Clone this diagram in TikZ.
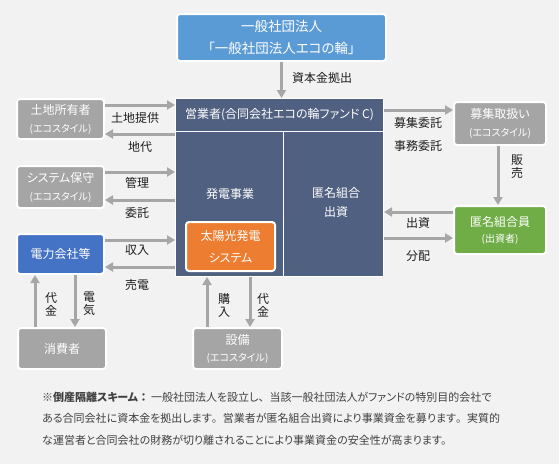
\documentclass[tikz,border=0pt]{standalone}
\usepackage{fontspec}
\setmainfont{Noto Sans CJK JP}[RawFeature={+palt}]
\usetikzlibrary{arrows.meta,calc}
\definecolor{bg}{HTML}{F2F2F2}
\definecolor{boxgray}{HTML}{A5A5A5}
\definecolor{arrgray}{HTML}{A6A6A6}
\definecolor{topblue}{HTML}{5B9BD5}
\definecolor{mainc}{RGB}{80,96,128}
\definecolor{orangec}{HTML}{ED7D31}
\definecolor{powblue}{HTML}{4472C4}
\definecolor{greenc}{HTML}{70AD47}
\definecolor{labc}{HTML}{1E1E1E}
\definecolor{notec}{HTML}{404040}
\newcommand{\fwp}[1]{{\addfontfeatures{RawFeature={-palt}}#1}}
\begin{document}
\begin{tikzpicture}[x=1pt,y=-1pt,
  box/.style={draw=white,line width=2pt,rounded corners=3pt,text=white,align=center,inner sep=0pt,font=\fontsize{12}{18}\selectfont},
  gbox/.style={box,fill=boxgray},
  arr/.style={draw=arrgray,line width=3pt,-{Triangle[length=8pt,width=9pt]}},
  lab/.style={text=labc,inner sep=0pt,align=center,font=\fontsize{12}{13}\selectfont},
  wtxt/.style={text=white,inner sep=0pt,align=center,font=\fontsize{12}{19}\selectfont},
  note/.style={anchor=west,text=notec,inner sep=0pt,font=\fontsize{11}{11}\selectfont}
]
\fill[bg] (0,0) rectangle (559,464);
\useasboundingbox (0,0) rectangle (559,464);
\newcommand{\subt}[1]{{\fontsize{10}{18}\selectfont #1}}

% top
\node[box,fill=topblue,minimum width=209pt,minimum height=47pt,font=\fontsize{13.5}{22}\selectfont] (top) at (281.5,37.5) {一般社団法人\\「一般社団法人エコの輪」};

% main box
\node[draw=white,line width=1pt,fill=mainc,minimum width=208pt,minimum height=178pt,inner sep=0pt] (main) at (279.5,187.5) {};
\draw[white,line width=0.8pt] (main.west |- 0,131) -- (main.east |- 0,131);
\draw[white,line width=0.8pt] (283,131) -- (283,277);
\node[wtxt] (hdr) at (279.5,115) {営業者(合同会社エコの輪ファンド C)};
\node[wtxt] (biz) at (230,194) {発電事業};
\node[wtxt] (tk) at (336,202.5) {匿名組合\\出資};
\node[box,fill=orangec,minimum width=89pt,minimum height=49pt,font=\fontsize{12}{22}\selectfont] (pv) at (230.5,246.5) {太陽光発電\\システム};

% left
\node[gbox,minimum width=87pt,minimum height=40pt] (land) at (60.5,119) {土地所有者\\\subt{(エコスタイル)}};
\node[gbox,minimum width=87pt,minimum height=42pt] (sys) at (60.5,187) {システム保守\\\subt{(エコスタイル)}};
\node[box,fill=powblue,minimum width=87pt,minimum height=40pt] (pow) at (60.5,254) {電力会社等};
\node[gbox,minimum width=88pt,minimum height=41pt] (cons) at (62,348.5) {消費者};
\node[gbox,minimum width=89pt,minimum height=41pt,font=\fontsize{12}{17}\selectfont] (eq) at (237.5,348.5) {設備\\\subt{(エコスタイル)}};

% right
\node[gbox,minimum width=92pt,minimum height=43pt] (rec) at (500,123.5) {募集取扱い\\\subt{(エコスタイル)}};
\node[box,fill=greenc,minimum width=92pt,minimum height=48pt,font=\fontsize{12}{16}\selectfont] (inv) at (500,230) {匿名組合員\\\subt{(出資者)}};

% arrows
\draw[arr] (top.south) -- (top.south |- main.north);
\node[lab,anchor=west] (l0) at (292,78) {資本金拠出};

\draw[arr] ([yshift=14pt]land.east) -- ([yshift=14pt]land.east -| main.west);
\draw[arr] ([yshift=-15pt]land.east -| main.west) -- ([yshift=-15pt]land.east);
\node[lab] (l1) at (135,118) {土地提供};
\node[lab] (l2) at (140,147) {地代};

\draw[arr] ([yshift=15pt]sys.east) -- ([yshift=15pt]sys.east -| main.west);
\draw[arr] ([yshift=-13pt]sys.east -| main.west) -- ([yshift=-13pt]sys.east);
\node[lab] (l3) at (137,183) {管理};
\node[lab] (l4) at (137,213) {委託};

\draw[arr] ([yshift=14pt]pow.east) -- ([yshift=14pt]pow.east -| main.west);
\draw[arr] ([yshift=-13pt]pow.east -| main.west) -- ([yshift=-13pt]pow.east);
\node[lab] (l5) at (137,250) {収入};
\node[lab] (l6) at (137,285) {売電};

\draw[arr] ([xshift=-27pt]cons.north) -- ([xshift=-27pt]cons.north |- pow.south);
\draw[arr] ([xshift=13pt]cons.north |- pow.south) -- ([xshift=13pt]cons.north);
\node[lab] (l7) at (51,304) {代\\金};
\node[lab] (l8) at (89,304) {電\\気};

\draw[arr] ([xshift=-30.5pt]eq.north) -- ([xshift=-30.5pt]eq.north |- main.south);
\draw[arr] ([xshift=12.5pt]eq.north |- main.south) -- ([xshift=12.5pt]eq.north);
\node[lab] (l9) at (224,305) {購\\入};
\node[lab] (l10) at (263,305) {代\\金};

\draw[arr] ([yshift=13.5pt]rec.west -| main.east) -- ([yshift=13.5pt]rec.west);
\node[lab] (l11) at (418,123) {募集委託};
\node[lab] (l12) at (418,146) {事務委託};

\draw[arr] (rec.south -| 498,0) -- (inv.north -| 498,0);
\node[lab] (l13) at (517,167) {販\\売};

\draw[arr] ([yshift=18pt]inv.west) -- ([yshift=18pt]inv.west -| main.east);
\draw[arr] ([yshift=-8pt]inv.west -| main.east) -- ([yshift=-8pt]inv.west);
\node[lab] (l14) at (418,223) {出資};
\node[lab] (l15) at (418,256) {分配};

% note
\node[note] (n1) at (42,397) {※\textbf{倒産隔離スキーム\fwp{：}}\hspace{2pt}一般社団法人を設立し\fwp{、}当該一般社団法人がファンドの特別目的会社で};
\node[note] (n2) at (42,418.5) {ある合同会社に資本金を拠出します\fwp{。}営業者が匿名組合出資により事業資金を募ります\fwp{。}実質的};
\node[note] (n3) at (42,440) {な運営者と合同会社の財務が切り離されることにより事業資金の安全性が高まります。};
\end{tikzpicture}
\end{document}
